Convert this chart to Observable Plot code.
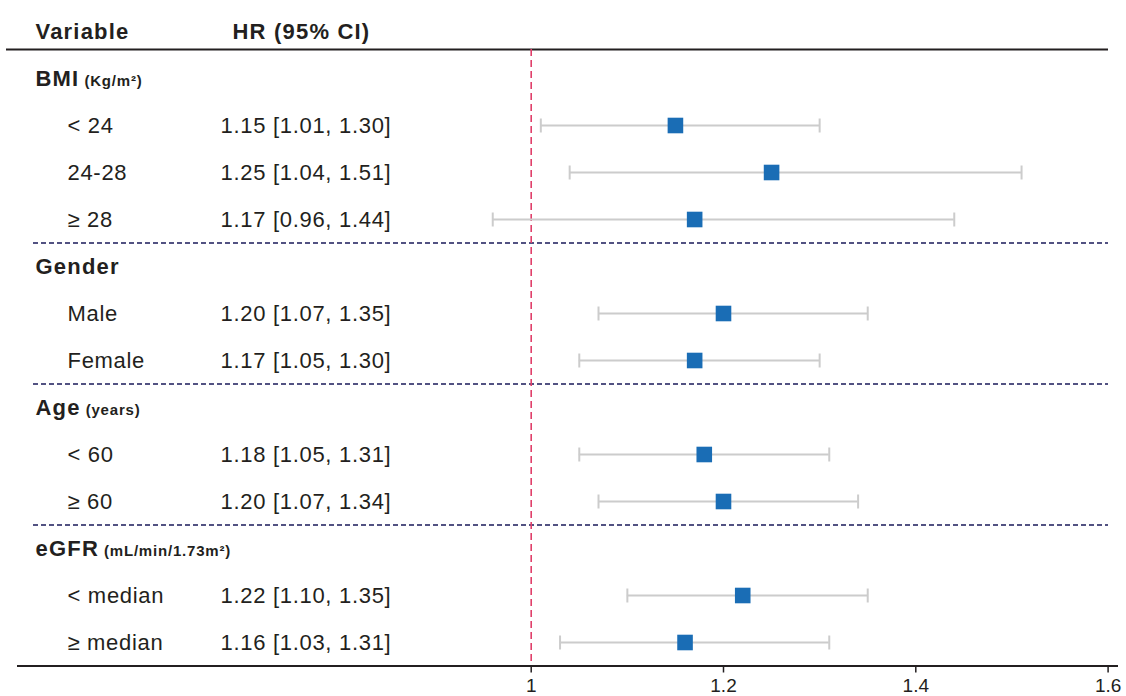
<!DOCTYPE html>
<html>
<head>
<meta charset="utf-8">
<script src="https://cdn.jsdelivr.net/npm/d3@7"></script>
<script src="https://cdn.jsdelivr.net/npm/@observablehq/plot@0.6"></script>
<style>
  html, body { margin: 0; padding: 0; background: #ffffff; }
  svg g[aria-label="text"] text { letter-spacing: 0.7px; }
  svg g[aria-label="text"][font-weight="bold"] text { letter-spacing: 1.2px; }
</style>
</head>
<body>
<div id="chart"></div>
<script>
// ---- data ----
const groups = ["BMI", "Gender", "Age", "eGFR"];
const groupUnits = ["(Kg/m²)", "", "(years)", "(mL/min/1.73m²)"];
const subgroups = ["< 24", "24-28", "≥ 28", "Male", "Female", "< 60", "≥ 60", "< median", "≥ median"];
const subgroupOf = ["BMI", "BMI", "BMI", "Gender", "Gender", "Age", "Age", "eGFR", "eGFR"];
const hr    = [1.15, 1.25, 1.17, 1.20, 1.17, 1.18, 1.20, 1.22, 1.16];
const lower = [1.01, 1.04, 0.96, 1.07, 1.05, 1.05, 1.07, 1.10, 1.03];
const upper = [1.30, 1.51, 1.44, 1.35, 1.30, 1.31, 1.34, 1.35, 1.31];
const xTicks = [1, 1.2, 1.4, 1.6];
const colHeaders = ["Variable", "HR (95% CI)"];

// ---- build row tables ----
const groupRows = [];
const itemRows = [];
const separators = [];
let row = 0;
groups.forEach((g, gi) => {
  if (gi > 0) separators.push(row - 0.5);
  groupRows.push({label: g, unit: groupUnits[gi], row: row});
  row++;
  subgroups.forEach((s, i) => {
    if (subgroupOf[i] !== g) return;
    itemRows.push({
      label: s, row: row, hr: hr[i], lower: lower[i], upper: upper[i],
      ci: `${hr[i].toFixed(2)} [${lower[i].toFixed(2)}, ${upper[i].toFixed(2)}]`
    });
    row++;
  });
});
const lastRow = row - 1;

const ink = "#231f20";
const capSymbol = {
  draw(ctx, size) {
    const h = Math.sqrt(size / Math.PI);
    ctx.moveTo(0, -h);
    ctx.lineTo(0, h);
  }
};

const chart = Plot.plot({
  width: 1126,
  height: 696,
  marginLeft: 6,
  marginRight: 8,
  marginTop: 0,
  marginBottom: 30.5,
  style: {fontFamily: "'Liberation Sans', Arial, Helvetica, sans-serif", color: ink, background: "#ffffff"},
  x: {domain: [1, 1.6], range: [530.7, 1107.6], label: null},
  y: {domain: [-1, lastRow], range: [31, 642], axis: null},
  marks: [
    // top header line
    Plot.ruleY([-1], {dy: 18, insetRight: 10, stroke: ink, strokeWidth: 2}),
    // group separators
    Plot.ruleY(separators, {insetLeft: 27, insetRight: 10, stroke: "#1a1a5a", strokeWidth: 1.4, strokeDasharray: "5,3"}),
    // reference line at HR = 1
    Plot.ruleX([1], {insetTop: 49, insetBottom: 2, stroke: "#e0406a", strokeWidth: 1.6, strokeDasharray: "7,4"}),
    // bottom axis line
    Plot.ruleY([lastRow + 0.5], {insetLeft: 11, stroke: ink, strokeWidth: 2}),
    // confidence intervals
    Plot.ruleY(itemRows, {y: "row", x1: "lower", x2: "upper", stroke: "#cccccc", strokeWidth: 2}),
    Plot.dot(itemRows, {x: "lower", y: "row", symbol: capSymbol, r: 7, fill: "none", stroke: "#cccccc", strokeWidth: 2}),
    Plot.dot(itemRows, {x: "upper", y: "row", symbol: capSymbol, r: 7, fill: "none", stroke: "#cccccc", strokeWidth: 2}),
    // point estimates
    Plot.dot(itemRows, {x: "hr", y: "row", symbol: "square", r: 8.8, fill: "#1a6db5", stroke: "none"}),
    // column headers
    Plot.text([colHeaders[0]], {text: d => d, y: () => -1, frameAnchor: "left", dx: 29, textAnchor: "start", fontWeight: "bold", fontSize: 22, fill: ink}),
    Plot.text([colHeaders[1]], {text: d => d, y: () => -1, frameAnchor: "left", dx: 226, textAnchor: "start", fontWeight: "bold", fontSize: 22, fill: ink}),
    // group labels
    Plot.text(groupRows, {text: "label", y: "row", frameAnchor: "left", dx: 29, textAnchor: "start", fontWeight: "bold", fontSize: 22, fill: ink}),
    // subgroup labels
    Plot.text(itemRows, {text: "label", y: "row", frameAnchor: "left", dx: 61, textAnchor: "start", fontSize: 22, fill: ink}),
    // HR text
    Plot.text(itemRows, {text: "ci", y: "row", frameAnchor: "left", dx: 214, textAnchor: "start", fontSize: 22, fill: ink}),
    // x axis
    Plot.axisX({ticks: xTicks, tickFormat: d3.format("~g"), tickSize: 7, tickPadding: 5, fontSize: 19, strokeWidth: 1.5, label: null})
  ]
});

// append the small unit suffix to group labels
const svgns = "http://www.w3.org/2000/svg";
chart.querySelectorAll('g[aria-label="text"] text').forEach(t => {
  const g = groupRows.find(r => r.label === t.textContent);
  if (g && g.unit) {
    const ts = document.createElementNS(svgns, "tspan");
    ts.setAttribute("font-size", "15");
    ts.setAttribute("dx", "5");
    ts.setAttribute("style", "letter-spacing:0.8px");
    ts.textContent = g.unit;
    t.appendChild(ts);
  }
});
// enlarge the tick labels
chart.querySelectorAll('g[aria-label="x-axis tick label"]').forEach(g => {
  g.setAttribute("font-size", "19");
  g.querySelectorAll("text").forEach(t => t.setAttribute("font-size", "19"));
});

document.getElementById("chart").appendChild(chart);
</script>
</body>
</html>
